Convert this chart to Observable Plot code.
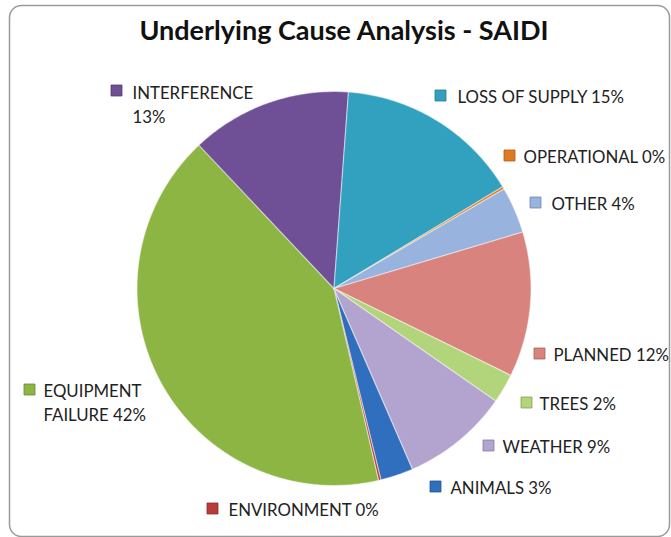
<!DOCTYPE html>
<html><head><meta charset="utf-8">
<script src="https://cdn.jsdelivr.net/npm/d3@7"></script>
<script src="https://cdn.jsdelivr.net/npm/@observablehq/plot@0.6"></script>
<style>html,body{margin:0;padding:0;background:#fff}</style>
</head><body><div id="chart"></div>
<script>
// ---- data ----
const title = "Underlying Cause Analysis - SAIDI";
const categories = ["ANIMALS","ENVIRONMENT","EQUIPMENT FAILURE","INTERFERENCE","LOSS OF SUPPLY","OPERATIONAL","OTHER","PLANNED","TREES","WEATHER"];
const values = [2.7, 0.2, 41.6, 13.2, 15.2, 0.2, 3.8, 11.9, 2.4, 8.8];
const percentLabels = ["3%","0%","42%","13%","15%","0%","4%","12%","2%","9%"];
const sliceColors = ["#2f6fbd","#b93b3a","#8db543","#6f4f95","#31a1bf","#e07a22","#97b3de","#d9837f","#b2d47b","#b3a3cf"];
const startAngleDeg = 156.5;

// ---- layout (pixels) ----
const W = 671, H = 537, CX = 333.5, CY = 288, R = 197;
const labelLayout = [
  {key:[435,486], text:[450,486], wrap:null},
  {key:[212,508], text:[228,508], wrap:null},
  {key:[29,389],  text:[43,401],  wrap:"word"},
  {key:[116,90],  text:[132,103], wrap:"name"},
  {key:[440,95],  text:[457,95],  wrap:null},
  {key:[509,155], text:[523,155], wrap:null},
  {key:[535,202], text:[551,202], wrap:null},
  {key:[539,353], text:[553,353], wrap:null},
  {key:[526,402], text:[539,402], wrap:null},
  {key:[488,445], text:[502,445], wrap:null}
];
const ux = px => (px - CX) / R, uy = py => (py - CY) / R;

// ---- slices from d3.pie ----
const a0 = startAngleDeg * Math.PI / 180;
const arcs = d3.pie().sort(null).value(d => d).startAngle(a0).endAngle(a0 + 2*Math.PI)(values);
const slicePts = [];
arcs.forEach((a, i) => {
  slicePts.push({cat: categories[i], c: sliceColors[i], x: 0, y: 0});
  const n = Math.max(2, Math.ceil((a.endAngle - a.startAngle) / 0.01));
  for (let k = 0; k <= n; k++) {
    const t = a.startAngle + (a.endAngle - a.startAngle) * k / n;
    slicePts.push({cat: categories[i], c: sliceColors[i], x: Math.sin(t), y: -Math.cos(t)});
  }
});

const labels = categories.map((name, i) => {
  const L = labelLayout[i];
  let txt;
  if (L.wrap === "name") txt = name + "\n" + percentLabels[i];
  else if (L.wrap === "word") { const w = name.split(" "); txt = w[0] + "\n" + w.slice(1).join(" ") + " " + percentLabels[i]; }
  else txt = name + " " + percentLabels[i];
  return {txt, c: sliceColors[i], kx: ux(L.key[0]), ky: uy(L.key[1]), tx: ux(L.text[0]), ty: uy(L.text[1])};
});

const font = "Lato, 'Open Sans', sans-serif";
const chart = Plot.plot({
  width: W, height: H,
  margin: 0,
  style: {fontFamily: font, background: "#fff"},
  x: {domain: [ux(0), ux(W)], axis: null},
  y: {domain: [uy(0), uy(H)], reverse: true, axis: null},
  color: {type: "identity"},
  marks: [
    Plot.frame({stroke: "#9a9a9a", strokeWidth: 1.5, rx: 12, insetLeft: 9, insetTop: 5, insetRight: 2, insetBottom: 1}),
    Plot.line(slicePts, {x: "x", y: "y", z: "cat", fill: "c", stroke: "#ffffff", strokeOpacity: 0.45, strokeWidth: 1.2, curve: "linear-closed"}),
    Plot.text([title], {frameAnchor: "top", dy: 31, dx: 8, fontSize: 27, fontWeight: "bold", fill: "#111", lineAnchor: "middle"}),
    Plot.dot(labels, {x: "kx", y: "ky", symbol: "square", r: 6.2, fill: "c", stroke: d => d3.color(d.c).darker(0.8).formatHex(), strokeWidth: 0.8}),
    Plot.text(labels, {x: "tx", y: "ty", text: "txt", textAnchor: "start", lineAnchor: "middle", lineHeight: 1.45, fontSize: 16.8, fill: "#222"})
  ]
});
document.getElementById("chart").appendChild(chart);
</script>
</body></html>
